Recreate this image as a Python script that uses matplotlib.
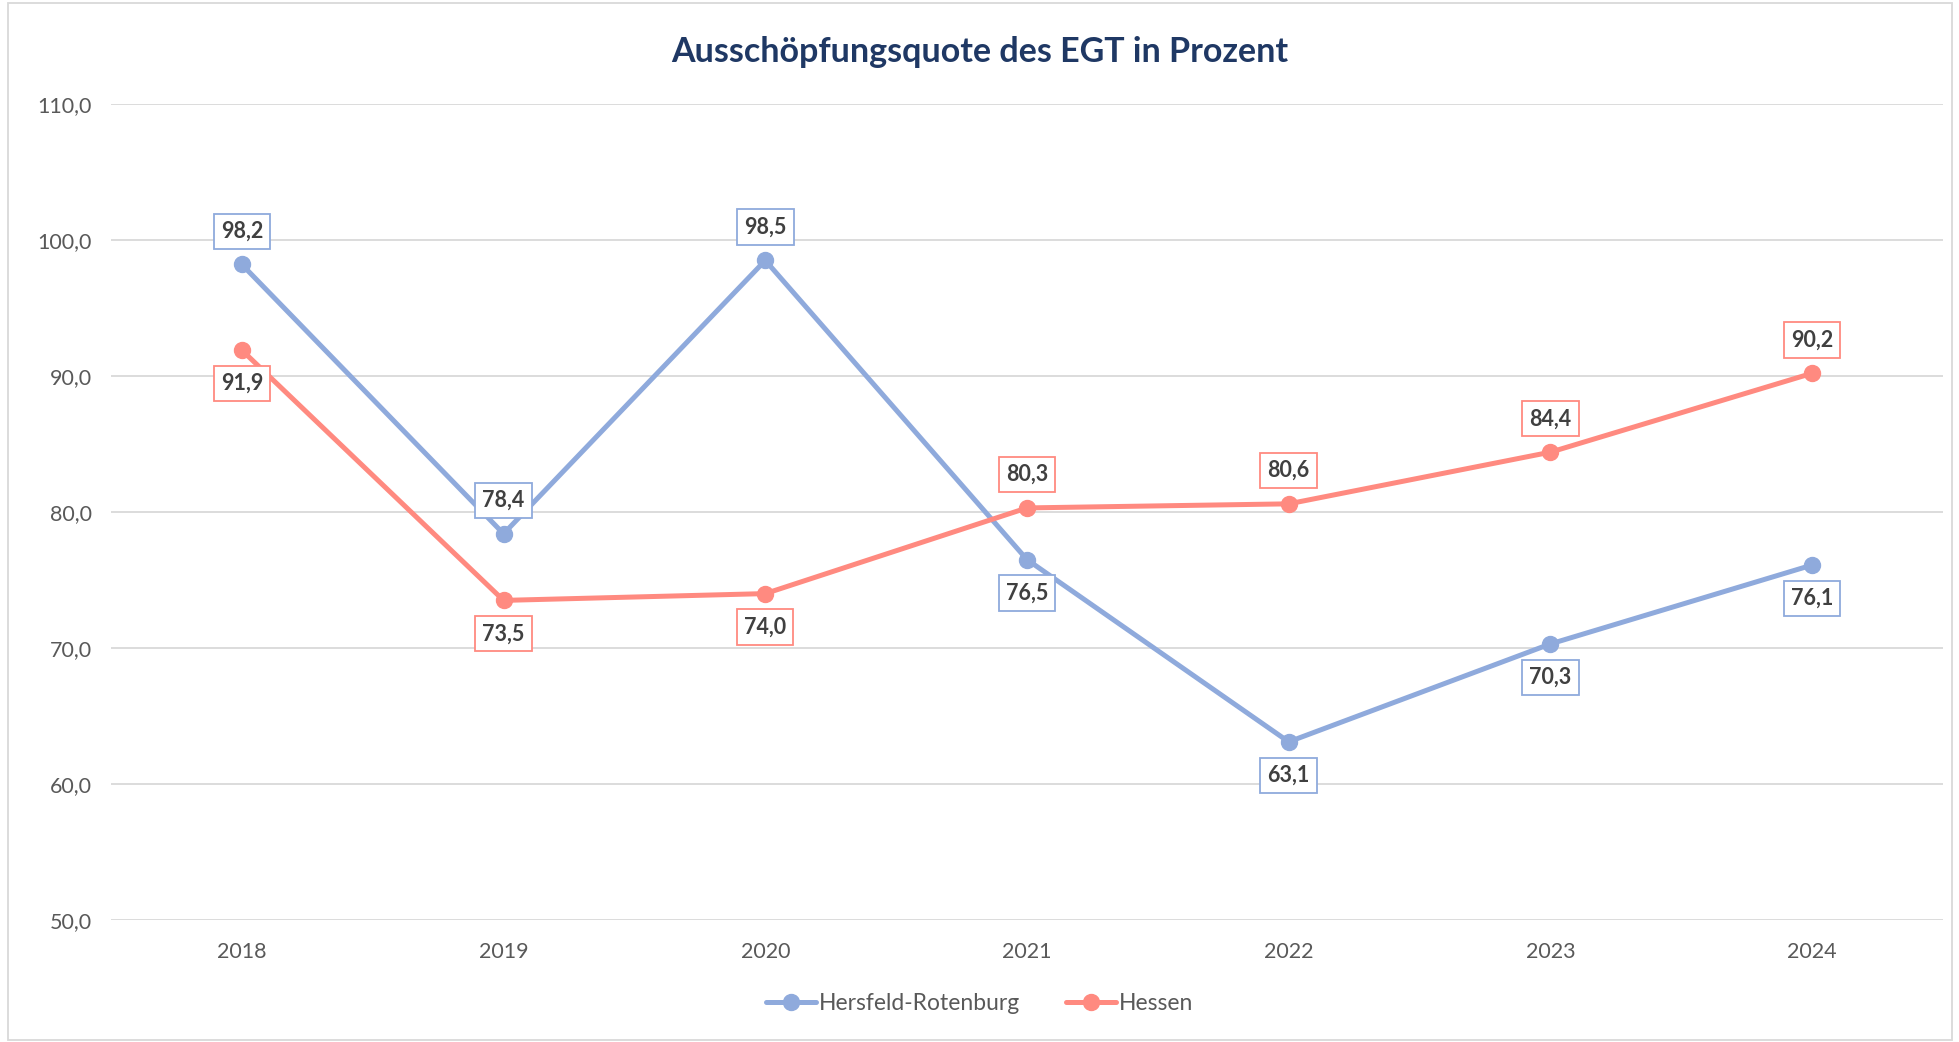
import matplotlib.pyplot as plt
from matplotlib.patches import Rectangle

plt.rcParams['font.family'] = ['Lato', 'DejaVu Sans']

years = ['2018', '2019', '2020', '2021', '2022', '2023', '2024']
hersfeld = [98.2, 78.4, 98.5, 76.5, 63.1, 70.3, 76.1]
hessen = [91.9, 73.5, 74.0, 80.3, 80.6, 84.4, 90.2]
# label placement: +1 above the point, -1 below
hersfeld_pos = [1, 1, 1, -1, -1, -1, -1]
hessen_pos = [-1, -1, -1, 1, 1, 1, 1]

blue = '#8FAADC'
red = '#FF8A80'

fig = plt.figure(figsize=(19.59, 10.42), dpi=100)
ax = fig.add_axes([111 / 1959, 1 - 920 / 1042, (1943 - 111) / 1959, (920 - 104) / 1042])

x = list(range(len(years)))
ax.plot(x, hersfeld, color=blue, lw=3.6, marker='o', ms=11.5, label='Hersfeld-Rotenburg',
        solid_capstyle='round', zorder=3)
ax.plot(x, hessen, color=red, lw=3.6, marker='o', ms=11.5, label='Hessen',
        solid_capstyle='round', zorder=3)

def add_labels(vals, pos, col):
    for i, (v, p) in enumerate(zip(vals, pos)):
        ax.annotate(f"{v:.1f}".replace('.', ','), (i, v), xytext=(0, 24 * p),
                    textcoords='offset points', ha='center', va='center',
                    fontsize=15.5, fontweight='bold', color='#404040', zorder=5,
                    bbox=dict(boxstyle='square,pad=0.33', fc='white', ec=col, lw=1.3))

add_labels(hersfeld, hersfeld_pos, blue)
add_labels(hessen, hessen_pos, red)

ax.set_xlim(-0.5, 6.5)
ax.set_ylim(50, 110)
ax.set_yticks(range(50, 111, 10))
ax.set_yticklabels([f"{t},0" for t in range(50, 111, 10)])
ax.set_xticks(x)
ax.set_xticklabels(years)
ax.tick_params(length=0, labelsize=15.5, labelcolor='#595959')
ax.tick_params(axis='x', pad=16)
ax.tick_params(axis='y', pad=14)
ax.grid(axis='y', color='#D9D9D9', lw=1.3)
ax.set_axisbelow(True)
for s in ax.spines.values():
    s.set_visible(False)

fig.text(0.5, 1 - 52 / 1042, 'Ausschöpfungsquote des EGT in Prozent', ha='center', va='center',
         fontsize=24.5, fontweight='bold', color='#1F3864')

ax.legend(loc='center', bbox_to_anchor=(0.5, (1042 - 1004) / 1042), bbox_transform=fig.transFigure,
          ncol=2, frameon=False, fontsize=16.5, labelcolor='#595959', handlelength=2.2,
          handletextpad=0.1, columnspacing=2.0)

fig.patches.append(Rectangle((8 / 1959, 0.002), (1952 - 8) / 1959, 1 - 3 / 1042 - 0.002,
                             transform=fig.transFigure, fill=False, ec='#D9D9D9', lw=1.3))

fig.savefig('out.png', dpi=100)
